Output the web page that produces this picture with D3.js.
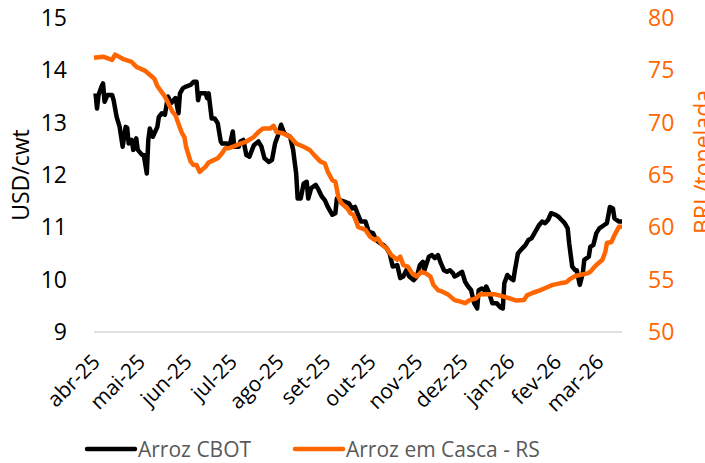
<!DOCTYPE html>
<html>
<head>
<meta charset="utf-8">
<script src="https://cdn.jsdelivr.net/npm/d3@7"></script>
<style>
body { margin: 0; background: #fff; }
svg { font-family: "Open Sans", sans-serif; }
</style>
</head>
<body>
<div id="chart"></div>
<script>
// month ticks on the x axis
var monthTicks = ["2025-04-01","2025-05-01","2025-06-01","2025-07-01","2025-08-01","2025-09-01",
  "2025-10-01","2025-11-01","2025-12-01","2026-01-01","2026-02-01","2026-03-01"];
var monthLabels = ["abr-25","mai-25","jun-25","jul-25","ago-25","set-25",
  "out-25","nov-25","dez-25","jan-26","fev-26","mar-26"];

var leftTicks = [9, 10, 11, 12, 13, 14, 15];
var rightTicks = [50, 55, 60, 65, 70, 75, 80];

// Arroz CBOT (USD/cwt)
var cbotDates = ["2025-04-02","2025-04-03","2025-04-04","2025-04-06","2025-04-07","2025-04-08","2025-04-10",
  "2025-04-13","2025-04-14","2025-04-16","2025-04-18","2025-04-20","2025-04-22","2025-04-23","2025-04-24",
  "2025-04-26","2025-04-27","2025-04-29","2025-04-30","2025-05-03","2025-05-04","2025-05-06","2025-05-07",
  "2025-05-08","2025-05-10","2025-05-13","2025-05-14","2025-05-16","2025-05-18","2025-05-20","2025-05-22",
  "2025-05-25","2025-05-27","2025-05-28","2025-05-30","2025-06-01","2025-06-04","2025-06-06","2025-06-08",
  "2025-06-09","2025-06-10","2025-06-14","2025-06-15","2025-06-16","2025-06-18","2025-06-20","2025-06-22",
  "2025-06-24","2025-06-25","2025-06-28","2025-06-30","2025-07-02","2025-07-03","2025-07-06","2025-07-07",
  "2025-07-09","2025-07-11","2025-07-13","2025-07-16","2025-07-19","2025-07-21","2025-07-23","2025-07-26",
  "2025-07-28","2025-07-30","2025-08-01","2025-08-03","2025-08-05","2025-08-07","2025-08-09","2025-08-11",
  "2025-08-13","2025-08-14","2025-08-16","2025-08-18","2025-08-20","2025-08-21","2025-08-23","2025-08-26",
  "2025-08-28","2025-08-30","2025-09-01","2025-09-03","2025-09-06","2025-09-08","2025-09-09","2025-09-11",
  "2025-09-14","2025-09-17","2025-09-19","2025-09-21","2025-09-23","2025-09-25","2025-09-28","2025-09-30",
  "2025-10-03","2025-10-05","2025-10-08","2025-10-10","2025-10-12","2025-10-14","2025-10-16","2025-10-19",
  "2025-10-21","2025-10-23","2025-10-25","2025-10-27","2025-10-30","2025-11-01","2025-11-03","2025-11-05",
  "2025-11-06","2025-11-09","2025-11-11","2025-11-13","2025-11-15","2025-11-17","2025-11-19","2025-11-21",
  "2025-11-23","2025-11-25","2025-11-26","2025-11-28","2025-12-01","2025-12-03","2025-12-05","2025-12-07",
  "2025-12-09","2025-12-11","2025-12-12","2025-12-14","2025-12-16","2025-12-17","2025-12-19","2025-12-21",
  "2025-12-24","2025-12-26","2025-12-28","2025-12-29","2025-12-31","2026-01-02","2026-01-04","2026-01-05",
  "2026-01-06","2026-01-07","2026-01-09","2026-01-12","2026-01-14","2026-01-16","2026-01-18","2026-01-21",
  "2026-01-23","2026-01-25","2026-01-27","2026-01-29","2026-02-01","2026-02-03","2026-02-05","2026-02-07",
  "2026-02-09","2026-02-10","2026-02-12","2026-02-14","2026-02-15","2026-02-17","2026-02-19","2026-02-20",
  "2026-02-23","2026-02-24","2026-02-26","2026-02-28","2026-03-02","2026-03-05","2026-03-07","2026-03-09",
  "2026-03-11","2026-03-12","2026-03-15","2026-03-17"];
var cbotValues = [13.56,13.27,13.53,13.69,13.75,13.4,13.53,
  13.53,13.43,13.11,12.92,12.54,12.92,12.9,12.6,
  12.67,12.48,12.7,12.48,12.38,12.38,12.03,12.67,
  12.89,12.73,12.92,13.11,13.18,13.15,13.5,13.37,
  13.47,13.18,13.56,13.66,13.69,13.72,13.78,13.78,
  13.43,13.56,13.56,13.47,13.56,13.08,13.08,12.99,
  12.64,12.6,12.6,12.57,12.83,12.54,12.54,12.64,
  12.67,12.38,12.35,12.57,12.64,12.54,12.32,12.25,
  12.29,12.6,12.76,12.96,12.8,12.76,12.73,12.48,
  12.03,11.55,11.55,11.84,11.87,11.55,11.75,11.81,
  11.71,11.59,11.52,11.39,11.24,11.27,11.55,11.52,
  11.49,11.46,11.36,11.39,11.24,11.11,11.11,10.92,
  10.89,10.76,10.69,10.66,10.6,10.5,10.25,10.28,
  10.03,10.06,10.18,10.06,9.99,10.06,10.28,10.34,
  10.18,10.44,10.47,10.41,10.47,10.31,10.18,10.15,
  10.18,10.12,10.06,10.09,10.15,9.96,9.87,9.8,
  9.55,9.45,9.8,9.83,9.8,9.87,9.74,9.55,
  9.55,9.48,9.45,9.93,10.09,10.03,9.99,10.18,
  10.34,10.5,10.57,10.66,10.76,10.79,10.89,11.04,
  11.11,11.08,11.14,11.27,11.24,11.2,11.14,11.08,
  10.98,10.69,10.25,10.18,10.18,9.9,10.12,10.38,
  10.44,10.63,10.66,10.89,10.98,11.04,11.08,11.39,
  11.36,11.17,11.11,11.11];

// Arroz em Casca - RS (BRL/tonelada)
var cascaDates = ["2025-04-01","2025-04-07","2025-04-13","2025-04-15","2025-04-20","2025-04-26","2025-04-29",
  "2025-05-05","2025-05-07","2025-05-11","2025-05-13","2025-05-16","2025-05-18","2025-05-23","2025-05-25",
  "2025-05-27","2025-05-29","2025-05-31","2025-06-01","2025-06-04","2025-06-06","2025-06-08","2025-06-10",
  "2025-06-14","2025-06-16","2025-06-19","2025-06-22","2025-06-25","2025-06-27","2025-06-29","2025-07-02",
  "2025-07-07","2025-07-11","2025-07-16","2025-07-19","2025-07-22","2025-07-27","2025-07-29","2025-07-31",
  "2025-08-04","2025-08-09","2025-08-13","2025-08-18","2025-08-22","2025-08-25","2025-08-29","2025-09-01",
  "2025-09-03","2025-09-06","2025-09-08","2025-09-10","2025-09-12","2025-09-16","2025-09-18","2025-09-20",
  "2025-09-22","2025-09-23","2025-09-28","2025-10-01","2025-10-04","2025-10-06","2025-10-09","2025-10-12",
  "2025-10-15","2025-10-19","2025-10-21","2025-10-23","2025-10-26","2025-10-29","2025-11-01","2025-11-04",
  "2025-11-07","2025-11-10","2025-11-12","2025-11-15","2025-11-18","2025-11-22","2025-11-26","2025-11-30",
  "2025-12-03","2025-12-06","2025-12-10","2025-12-13","2025-12-18","2025-12-23","2025-12-28","2026-01-02",
  "2026-01-06","2026-01-11","2026-01-13","2026-01-17","2026-01-22","2026-01-26","2026-01-30","2026-02-04",
  "2026-02-08","2026-02-11","2026-02-14","2026-02-17","2026-02-22","2026-02-24","2026-02-26","2026-02-28",
  "2026-03-04","2026-03-06","2026-03-07","2026-03-10","2026-03-12","2026-03-15","2026-03-17"];
var cascaValues = [76.2,76.3,76.0,76.5,76.1,75.8,75.35,
  74.95,74.7,74.2,73.5,72.9,72.5,71.05,70.7,
  69.9,69.1,68.6,67.7,66.3,65.95,65.95,65.3,
  65.8,66.2,66.4,66.6,67.1,67.55,67.55,67.7,
  68.0,68.2,68.65,69.1,69.45,69.45,69.7,69.1,
  69.0,68.65,68.0,67.7,67.4,66.9,66.3,66.1,
  65.3,64.5,64.35,62.9,62.3,61.8,61.35,61.2,
  60.5,60.05,59.75,59.1,58.8,58.95,58.3,58.0,
  57.35,56.9,57.2,56.4,56.25,55.6,55.3,55.75,
  55.6,55.3,54.5,54.0,53.85,53.55,53.05,52.9,
  52.75,53.05,53.2,53.6,53.6,53.6,53.4,53.2,
  53.0,53.05,53.5,53.75,54.0,54.25,54.5,54.65,
  54.75,55.1,55.35,55.45,55.6,55.75,56.1,56.4,
  56.9,57.7,58.5,58.6,59.25,60.05,60.05];

var black = "#000000";
var orange = "#ff6600";

var parse = d3.timeParse("%Y-%m-%d");

var svg = d3.select("#chart").append("svg")
  .attr("width", 705).attr("height", 463);

var x = d3.scaleTime()
  .domain([parse("2025-04-01"), parse("2026-03-17")])
  .range([94, 622]);
var yL = d3.scaleLinear().domain([9, 15]).range([332, 18]);
var yR = d3.scaleLinear().domain([50, 80]).range([332, 18]);

// baseline
svg.append("line")
  .attr("x1", 94).attr("x2", 622)
  .attr("y1", yL(9)).attr("y2", yL(9))
  .attr("stroke", "#d9d9d9").attr("stroke-width", 1.5);

// left axis
var left = svg.append("g").attr("transform", "translate(67,0)")
  .call(d3.axisLeft(yL).tickValues(leftTicks).tickFormat(d3.format("d")).tickSize(0).tickPadding(0));
left.select(".domain").remove();
left.selectAll("text").attr("font-size", 23).attr("fill", "#000")
  .attr("font-family", "Open Sans");

// right axis
var right = svg.append("g").attr("transform", "translate(648,0)")
  .call(d3.axisRight(yR).tickValues(rightTicks).tickFormat(d3.format("d")).tickSize(0).tickPadding(0));
right.select(".domain").remove();
right.selectAll("text").attr("font-size", 23).attr("fill", orange)
  .attr("font-family", "Open Sans");

// x labels
svg.selectAll("text.month")
  .data(monthTicks)
  .enter().append("text")
  .attr("class", "month")
  .attr("transform", function(d) { return "translate(" + (x(parse(d)) + 2) + ",358) rotate(-45)"; })
  .attr("text-anchor", "end")
  .attr("dy", "0.35em")
  .attr("font-size", 21)
  .attr("fill", "#000")
  .text(function(d, i) { return monthLabels[i]; });

// axis titles
svg.append("text")
  .attr("transform", "translate(29,175) rotate(-90)")
  .attr("text-anchor", "middle")
  .attr("font-size", 23)
  .attr("fill", "#000")
  .text("USD/cwt");

svg.append("text")
  .attr("transform", "translate(711,162) rotate(-90)")
  .attr("text-anchor", "middle")
  .attr("font-size", 23)
  .attr("fill", orange)
  .text("BRL/tonelada");

// lines
var cbot = cbotDates.map(function(d, i) { return {date: parse(d), value: cbotValues[i]}; });
var casca = cascaDates.map(function(d, i) { return {date: parse(d), value: cascaValues[i]}; });

var lineL = d3.line().x(function(d) { return x(d.date); }).y(function(d) { return yL(d.value); });
var lineR = d3.line().x(function(d) { return x(d.date); }).y(function(d) { return yR(d.value); });

svg.append("path").datum(cbot)
  .attr("d", lineL)
  .attr("fill", "none").attr("stroke", black)
  .attr("stroke-width", 4.5).attr("stroke-linejoin", "round");

svg.append("path").datum(casca)
  .attr("d", lineR)
  .attr("fill", "none").attr("stroke", orange)
  .attr("stroke-width", 4.5).attr("stroke-linejoin", "round");

// legend
var legend = [
  {name: "Arroz CBOT", color: black, x: 87},
  {name: "Arroz em Casca - RS", color: orange, x: 295}
];
var lg = svg.selectAll("g.legend").data(legend).enter().append("g").attr("class", "legend");
lg.append("line")
  .attr("x1", function(d) { return d.x; }).attr("x2", function(d) { return d.x + 48; })
  .attr("y1", 449).attr("y2", 449)
  .attr("stroke", function(d) { return d.color; })
  .attr("stroke-width", 4.5).attr("stroke-linecap", "round");
lg.append("text")
  .attr("x", function(d) { return d.x + 51; })
  .attr("y", 457)
  .attr("font-size", 21)
  .attr("fill", "#595959")
  .text(function(d) { return d.name; });
</script>
</body>
</html>
